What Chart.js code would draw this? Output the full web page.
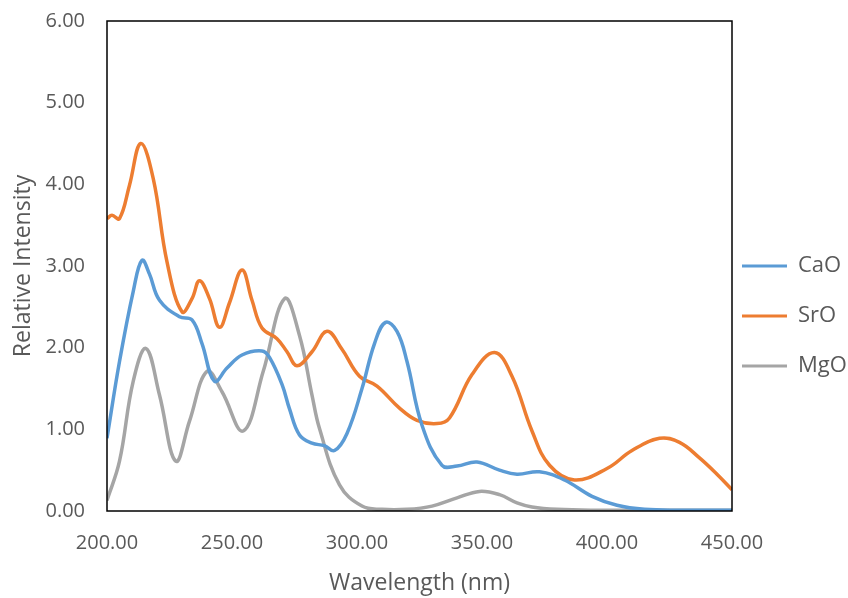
<!DOCTYPE html>
<html>
<head>
<meta charset="utf-8">
<script src="https://cdn.jsdelivr.net/npm/chart.js@4"></script>
<style>
  html, body { margin: 0; padding: 0; background: #fff; }
  #wrap { width: 848px; height: 598px; }
</style>
</head>
<body>
<div id="wrap"><canvas id="spectra"></canvas></div>
<script>
// values
const caoX = [200, 205, 210.5, 214, 217, 221, 229, 234, 238, 243, 248, 254, 262, 265, 270, 273, 277, 282, 287, 291, 296, 302, 307, 311.4, 316, 320, 326, 334, 340, 348, 357, 364, 373, 383, 394, 404, 415, 430, 450];
const caoY = [0.89, 1.83, 2.69, 3.07, 2.9, 2.58, 2.38, 2.34, 2.05, 1.59, 1.75, 1.91, 1.96, 1.88, 1.55, 1.25, 0.93, 0.83, 0.8, 0.74, 0.95, 1.5, 2.05, 2.31, 2.2, 1.83, 1.05, 0.56, 0.55, 0.6, 0.5, 0.45, 0.48, 0.38, 0.18, 0.07, 0.02, 0.01, 0.01];

const sroX = [200, 202, 205, 209, 213.5, 218.5, 224, 230, 234, 237, 241, 245, 249, 254, 258, 262, 268, 272, 276, 282, 288, 294, 301, 308, 317, 324, 332, 337, 346, 355, 362, 370, 377, 387, 400, 410, 421, 429, 437, 444, 450];
const sroY = [3.58, 3.62, 3.58, 3.99, 4.5, 4.07, 3.05, 2.44, 2.6, 2.82, 2.6, 2.25, 2.55, 2.95, 2.58, 2.24, 2.11, 1.95, 1.78, 1.95, 2.2, 1.98, 1.65, 1.53, 1.26, 1.11, 1.07, 1.14, 1.67, 1.94, 1.65, 0.98, 0.56, 0.38, 0.52, 0.74, 0.89, 0.84, 0.65, 0.45, 0.26];

const mgoX = [200, 205, 210.5, 215.6, 221, 227.5, 233, 240, 246, 254.5, 262.5, 271, 277, 282, 285, 293, 302, 310, 320, 330, 340, 349, 357, 364, 370, 380, 395, 450];
const mgoY = [0.13, 0.61, 1.59, 1.99, 1.42, 0.61, 1.1, 1.71, 1.46, 0.98, 1.71, 2.6, 2.15, 1.42, 1.01, 0.32, 0.06, 0.02, 0.02, 0.06, 0.16, 0.24, 0.2, 0.1, 0.05, 0.02, 0.01, 0.01];

const seriesNames = ['CaO', 'SrO', 'MgO'];
const seriesColors = ['#5B9BD5', '#ED7D31', '#A5A5A5'];
const xTicks = [200, 250, 300, 350, 400, 450];
const yTicks = [0, 1, 2, 3, 4, 5, 6];

const toPoints = (xs, ys) => xs.map((x, i) => ({ x: x, y: ys[i] }));
const allX = [caoX, sroX, mgoX];
const allY = [caoY, sroY, mgoY];

// black box round the plot area
const frame = {
    id: 'frame',
    afterDraw(chart) {
        const a = chart.chartArea;
        const ctx = chart.ctx;
        ctx.save();
        ctx.strokeStyle = '#000';
        ctx.lineWidth = 1.5;
        ctx.strokeRect(a.left, a.top, a.right - a.left, a.bottom - a.top);
        ctx.restore();
    }
};

// pull the legend closer to the plot, like the original
const legendNudge = {
    id: 'legendNudge',
    afterLayout(chart) {
        if (!chart.legend) return;
        chart.legend.left -= 18;
        chart.legend.top += 7;
        chart.legend.bottom += 7;
    }
};

const font = "'Open Sans', 'Liberation Sans', sans-serif";
const grey = '#595959';

new Chart(document.getElementById('spectra'), {
    type: 'scatter',
    data: {
        datasets: seriesNames.map((name, i) => ({
            label: name,
            data: toPoints(allX[i], allY[i]),
            showLine: true,
            borderColor: seriesColors[i],
            backgroundColor: seriesColors[i],
            borderWidth: 3.5,
            pointRadius: 0,
            tension: 0.4
        }))
    },
    options: {
        responsive: true,
        maintainAspectRatio: false,
        animation: false,
        layout: { padding: { top: 21, right: 0, left: 6, bottom: 1 } },
        plugins: {
            tooltip: { enabled: false },
            legend: {
                position: 'right',
                maxWidth: 116,
                labels: {
                    boxWidth: 45,
                    boxHeight: 3,
                    padding: 28,
                    color: grey,
                    font: { family: font, size: 22 },
                    generateLabels(chart) {
                        return chart.data.datasets.map((ds, i) => ({
                            text: ds.label,
                            fillStyle: ds.borderColor,
                            strokeStyle: ds.borderColor,
                            lineWidth: 0,
                            fontColor: grey,
                            datasetIndex: i
                        }));
                    }
                }
            }
        },
        scales: {
            x: {
                type: 'linear',
                min: 200,
                max: 450,
                afterBuildTicks: (s) => { s.ticks = xTicks.map(v => ({ value: v })); },
                afterFit: (s) => {
                    s.height = 86;
                    s.paddingLeft = 0;
                    s.paddingRight = 0;
                },
                grid: { display: false, drawTicks: false },
                border: { display: false },
                ticks: {
                    color: grey,
                    font: { family: font, size: 20 },
                    padding: 20,
                    maxRotation: 0,
                    callback: (v) => v.toFixed(2)
                },
                title: {
                    display: true,
                    text: 'Wavelength (nm)',
                    color: grey,
                    font: { family: font, size: 23 },
                    padding: { top: 4, bottom: 0 }
                }
            },
            y: {
                min: 0,
                max: 6,
                afterBuildTicks: (s) => { s.ticks = yTicks.map(v => ({ value: v })); },
                afterFit: (s) => {
                    s.width = 101;
                    s.paddingTop = 0;
                    s.paddingBottom = 0;
                },
                grid: { display: false, drawTicks: false },
                border: { display: false },
                ticks: {
                    color: grey,
                    font: { family: font, size: 20 },
                    padding: 22,
                    callback: (v) => v.toFixed(2)
                },
                title: {
                    display: true,
                    text: 'Relative Intensity',
                    color: grey,
                    font: { family: font, size: 23 },
                    padding: { top: 4, bottom: 4 }
                }
            }
        }
    },
    plugins: [frame, legendNudge]
});
</script>
</body>
</html>
